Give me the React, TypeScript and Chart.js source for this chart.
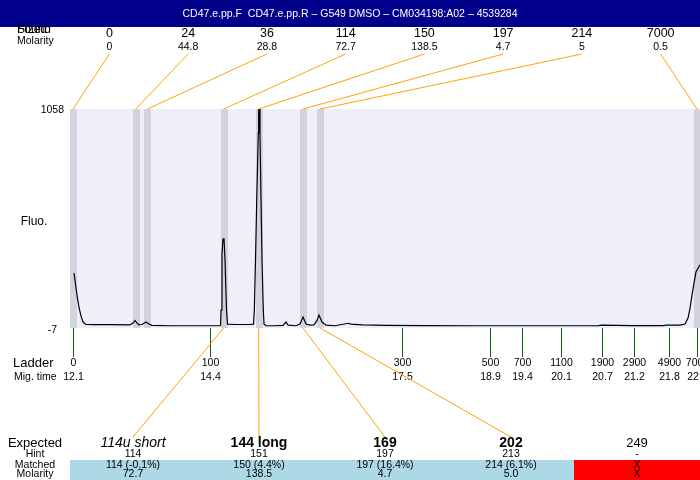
import React, { useEffect, useRef } from "react";
import { Chart, registerables } from "chart.js";

Chart.register(...registerables);

const title = "CD47.e.pp.F  CD47.e.pp.R \u2013 G549 DMSO \u2013 CM034198:A02 \u2013 4539284";

// Found peaks (top rows)
const peakSizes = ["0", "24", "36", "114", "150", "197", "214", "7000"];
const peakMolarity = ["0", "44.8", "28.8", "72.7", "138.5", "4.7", "5", "0.5"];
const peakTimes = [12.1, 13.12, 13.31, 14.55, 15.12, 15.84, 16.12, 22.25];

// Ladder
const ladderSizes = ["0", "100", "300", "500", "700", "1100", "1900", "2900", "4900", "7000"];
const ladderMigLabels = ["12.1", "14.4", "17.5", "18.9", "19.4", "20.1", "20.7", "21.2", "21.8", "22.3"];
const ladderTimes = [12.1, 14.33, 17.45, 18.88, 19.4, 20.04, 20.71, 21.23, 21.8, 22.25];

// Electropherogram trace
const traceTimes = [
  12.115, 12.131, 12.164, 12.196, 12.229, 12.262, 12.31, 12.457, 12.701, 13.026,
  13.075, 13.108, 13.14, 13.173, 13.222, 13.287, 13.335, 13.384, 13.677, 14.165,
  14.458, 14.499, 14.507, 14.523, 14.539, 14.556, 14.572, 14.596, 14.613, 14.735,
  14.979, 15.036, 15.049, 15.068, 15.088, 15.114, 15.12, 15.13, 15.141, 15.158,
  15.174, 15.195, 15.207, 15.239, 15.386, 15.516, 15.565, 15.597, 15.727, 15.792,
  15.841, 15.89, 15.955, 16.02, 16.069, 16.101, 16.15, 16.215, 16.361, 16.58,
  16.62, 16.8, 17.2, 17.8, 18.6, 19.4, 20.2, 20.65, 20.7, 21.2,
  21.7, 21.75, 21.975, 22.056, 22.105, 22.138, 22.17, 22.203, 22.235, 22.3,
];
const traceFluo = [
  260, 226, 153, 95, 51, 22, 10, 9, 9, 8,
  17, 30, 17, 8, 10, 22, 12, 6, 4, 4,
  4, 5, 80, 350, 426, 426, 324, 80, 12, 10,
  10, 12, 80, 323, 615, 941, 1058, 1058, 941, 615,
  324, 80, 12, 4, 4, 6, 22, 7, 4, 12,
  46, 12, 7, 8, 30, 56, 22, 7, 4, 16,
  12, 8, 6, 5, 4, 4, 4, 5, 7, 5,
  5, 7, 7, 12, 41, 90, 153, 212, 265, 300,
];

const yMin = -7;
const yMax = 1058;

// Expected / matched table
const expectedLabels = ["114u short", "144 long", "169", "202", "249"];
const expectedWeights = ["italic", "bold", "bold", "bold", "normal"];
const hintValues = ["114", "151", "197", "213", "-"];
const matchedValues = ["114 (-0.1%)", "150 (4.4%)", "197 (16.4%)", "214 (6.1%)", "X"];
const matchedMolarity = ["72.7", "138.5", "4.7", "5.0", "X"];
const matchedPeakIndex = [3, 4, 5, 6, -1];

const FONT = '"Liberation Sans", Arial, sans-serif';

const overlayPlugin = {
  id: "overlay",
  beforeDraw(chart: any) {
    const { ctx, chartArea: a, width, height } = chart;
    ctx.save();
    ctx.fillStyle = "#ffffff";
    ctx.fillRect(0, 0, width, height);
    ctx.fillStyle = "#efeffc";
    ctx.fillRect(a.left, a.top, a.right - a.left, a.bottom - a.top);
    ctx.restore();
  },
  beforeDatasetsDraw(chart: any) {
    const { ctx, chartArea: a, scales } = chart;
    ctx.save();
    ctx.beginPath();
    ctx.rect(a.left, a.top, a.right - a.left, a.bottom - a.top);
    ctx.clip();
    ctx.fillStyle = "#d3d3df";
    peakTimes.forEach((t) => {
      const x = scales.x.getPixelForValue(t);
      ctx.fillRect(Math.round(x) - 3, a.top, 7, a.bottom - a.top);
    });
    ctx.restore();
  },
  afterDraw(chart: any) {
    const { ctx, chartArea: a, scales, width } = chart;
    ctx.save();
    // header
    ctx.fillStyle = "#00008b";
    ctx.fillRect(0, 0, width, 27);
    ctx.fillStyle = "#ffffff";
    ctx.font = `10.5px ${FONT}`;
    ctx.textAlign = "center";
    ctx.textBaseline = "middle";
    ctx.fillText(title, width / 2, 14);

    // top-left labels
    ctx.fillStyle = "#000000";
    ctx.textAlign = "left";
    ctx.font = `12px ${FONT}`;
    ctx.fillText("Found", 17, 30);
    ctx.fillText("Sized", 17, 30);
    ctx.font = `10.5px ${FONT}`;
    ctx.fillText("Molarity", 17, 41);

    // top peak columns
    const nTop = peakSizes.length;
    const colW = (a.right - a.left) / nTop;
    ctx.textAlign = "center";
    peakSizes.forEach((s, i) => {
      const cx = a.left + colW * (i + 0.5);
      ctx.fillStyle = "#000000";
      ctx.font = `12.5px ${FONT}`;
      ctx.fillText(s, cx, 34);
      ctx.font = `10.5px ${FONT}`;
      ctx.fillText(peakMolarity[i], cx, 47);
      const px = scales.x.getPixelForValue(peakTimes[i]);
      ctx.strokeStyle = "#ffa500";
      ctx.lineWidth = 1;
      ctx.beginPath();
      ctx.moveTo(cx, 54);
      ctx.lineTo(px, a.top);
      ctx.stroke();
    });

    // y labels
    ctx.fillStyle = "#000000";
    ctx.textAlign = "right";
    ctx.font = `10.5px ${FONT}`;
    ctx.fillText(String(yMax), 64, scales.y.getPixelForValue(yMax) + 1);
    ctx.fillText(String(yMin), 57, scales.y.getPixelForValue(yMin) + 2);
    ctx.textAlign = "center";
    ctx.font = `12px ${FONT}`;
    ctx.fillText("Fluo.", 34, (a.top + a.bottom) / 2 + 3);

    // ladder
    ctx.textAlign = "left";
    ctx.font = `13px ${FONT}`;
    ctx.fillText("Ladder", 13, a.bottom + 35);
    ctx.font = `10.5px ${FONT}`;
    ctx.fillText("Mig. time", 14, a.bottom + 49);
    ctx.textAlign = "center";
    ladderTimes.forEach((t, i) => {
      const x = Math.round(scales.x.getPixelForValue(t)) + 0.5;
      ctx.strokeStyle = "#006400";
      ctx.lineWidth = 1;
      ctx.beginPath();
      ctx.moveTo(x, a.bottom);
      ctx.lineTo(x, a.bottom + 29);
      ctx.stroke();
      ctx.fillStyle = "#000000";
      ctx.fillText(ladderSizes[i], x, a.bottom + 35);
      ctx.fillText(ladderMigLabels[i], x, a.bottom + 49);
    });

    // expected table
    const nCols = expectedLabels.length;
    const tw = (a.right - a.left) / nCols;
    const yExp = 443;
    const yHint = 454.5;
    const yMatch = 465;
    const yMol = 474.5;
    for (let i = 0; i < nCols; i++) {
      const x0 = a.left + tw * i;
      ctx.fillStyle = matchedPeakIndex[i] >= 0 ? "#add8e6" : "#ff0000";
      ctx.fillRect(x0, 460, tw, 20);
    }
    for (let i = 0; i < nCols; i++) {
      const pi = matchedPeakIndex[i];
      if (pi < 0) continue;
      const cx = a.left + tw * (i + 0.5);
      const px = scales.x.getPixelForValue(peakTimes[pi]);
      ctx.strokeStyle = "#ffa500";
      ctx.lineWidth = 1;
      ctx.beginPath();
      ctx.moveTo(px, a.bottom);
      ctx.lineTo(cx, 437);
      ctx.stroke();
    }
    ctx.fillStyle = "#000000";
    ctx.textAlign = "center";
    ctx.font = `13px ${FONT}`;
    ctx.fillText("Expected", 35, yExp);
    ctx.font = `10.5px ${FONT}`;
    ctx.fillText("Hint", 35, yHint);
    ctx.fillText("Matched", 35, yMatch);
    ctx.fillText("Molarity", 35, yMol);
    for (let i = 0; i < nCols; i++) {
      const cx = a.left + tw * (i + 0.5);
      const st = expectedWeights[i];
      if (st === "italic") ctx.font = `italic 14px ${FONT}`;
      else if (st === "bold") ctx.font = `bold 14px ${FONT}`;
      else ctx.font = `13px ${FONT}`;
      ctx.fillStyle = "#000000";
      ctx.fillText(expectedLabels[i], cx, yExp);
      ctx.font = `10.5px ${FONT}`;
      ctx.fillText(hintValues[i], cx, yHint);
      ctx.fillText(matchedValues[i], cx, yMatch);
      ctx.fillText(matchedMolarity[i], cx, yMol);
    }
    ctx.restore();
  },
};

export default function App() {
  const ref = useRef<HTMLCanvasElement>(null);
  useEffect(() => {
    if (!ref.current) return;
    const chart = new Chart(ref.current, {
      type: "line",
      data: {
        datasets: [
          {
            data: traceTimes.map((t, i) => ({ x: t, y: traceFluo[i] })),
            borderColor: "#000000",
            borderWidth: 1.2,
            pointRadius: 0,
            tension: 0,
            fill: false,
          },
        ],
      },
      options: {
        animation: false,
        responsive: false,
        devicePixelRatio: 1,
        layout: { padding: { left: 70, top: 109, right: 0, bottom: 152 } },
        plugins: { legend: { display: false }, title: { display: false }, tooltip: { enabled: false } },
        scales: {
          x: { type: "linear", min: 12.05, max: 22.3, display: false },
          y: { type: "linear", min: yMin, max: yMax, display: false },
        },
      },
      plugins: [overlayPlugin],
    });
    return () => chart.destroy();
  }, []);
  return (
    <div style={{ position: "absolute", left: 0, top: 0, width: 700, height: 480 }}>
      <canvas ref={ref} width={700} height={480} />
    </div>
  );
}
